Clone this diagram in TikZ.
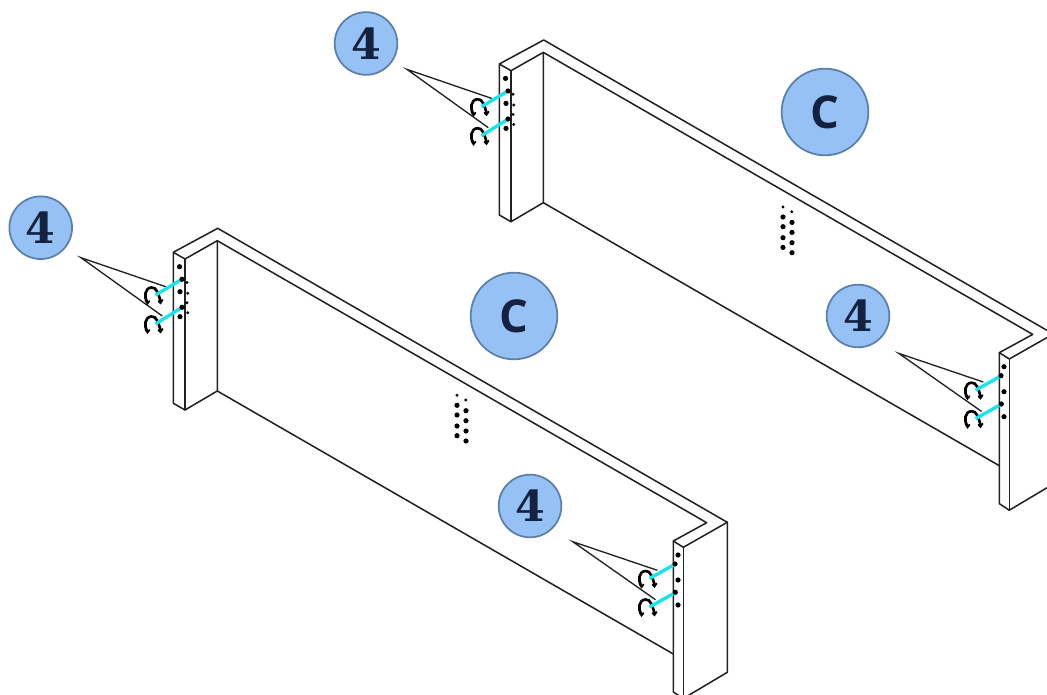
\documentclass[tikz,border=0pt]{standalone}
\usepackage{fontspec}
\newfontfamily\numfont{DejaVu Serif}
\newfontfamily\letfont{Open Sans}
\definecolor{bubble}{HTML}{95C1F5}
\definecolor{bubbleedge}{HTML}{5C7FA8}
\definecolor{ink}{HTML}{14213F}
\definecolor{linecol}{HTML}{222222}
\definecolor{pincol}{HTML}{16E4EE}
\tikzset{
  edge/.style={draw=linecol,line width=1.15pt,line join=round,line cap=round},
  leader/.style={draw=linecol,line width=1pt,line join=miter},
  pin/.style={draw=pincol,line width=2.5pt},
  bigdot/.style={circle,fill=black,minimum size=3.9pt,inner sep=0pt},
  smalldot/.style={circle,fill=black,minimum size=2.4pt,inner sep=0pt},
  numbub/.style={circle,draw=bubbleedge,line width=1.3pt,fill=bubble,minimum size=47pt,inner sep=0pt,
     text=ink,font=\numfont\bfseries\fontsize{32}{32}\selectfont},
  letbub/.style={circle,draw=bubbleedge,line width=1.3pt,fill=bubble,minimum size=65pt,inner sep=0pt,
     text=ink,font=\letfont\bfseries\fontsize{34}{34}\selectfont},
  staple/.pic={
    \draw[black,line width=2pt,line cap=round]
      (-8.5,7) .. controls (-11.5,2) and (-11,-7) .. (-4,-7.5)
             .. controls (1,-8) and (3,-1) .. (5,6);
    \draw[black,line width=1.4pt,line cap=round] (-10,5) -- (-8,8.5) -- (-6,6);
    \draw[black,line width=1.4pt,line cap=round] (3,6) -- (5,8) -- (7,5);
  },
  board/.pic={
    \coordinate (tl) at (173.3,252.3);
    \coordinate (tf) at (185,259);
    \coordinate (to) at (217.7,228.3);
    \coordinate (ti) at (217.3,240.7);
    \coordinate (bl) at (173.3,403.3);
    \coordinate (bf) at (185,410);
    \coordinate (bi) at (217.3,391);
    \coordinate (rl) at (673.3,541);
    \coordinate (rf) at (683.3,547.3);
    \coordinate (ro) at (727.3,522.3);
    \coordinate (ri) at (706.7,522.7);
    \coordinate (rbo) at (727.3,672.3);
    \coordinate (rbf) at (683.3,698.5);
    \coordinate (rbl) at (673.3,692);
    \coordinate (rin) at (673.3,654);
    \draw[edge] (tf) -- (tl) -- (to) -- (ro) -- (rf) -- (rl) -- (ri) -- (ti) -- (tf) -- (bf) -- (bl) -- (tl);
    \draw[edge] (ti) -- (bi) -- (bf);
    \draw[edge] (bi) -- (rin);
    \draw[edge] (rl) -- (rbl) -- (rbf) -- (rbo) -- (ro);
    \draw[edge] (rf) -- (rbf);
    \coordinate (la) at (81,257.7);
    \coordinate (lp1) at (165.7,286.7);
    \coordinate (lp2) at (162.3,316);
    \coordinate (lc1a) at (182,279.3);
    \coordinate (lc1b) at (155.5,295);
    \coordinate (lc2a) at (182,307.5);
    \coordinate (lc2b) at (155.5,324);
    \draw[leader] (lp1) -- (la) -- (lp2);
    \path (lc1b) pic {staple} (lc2b) pic {staple};
    \draw[pin] (lc1a) -- (lc1b);
    \draw[pin] (lc2a) -- (lc2b);
    \foreach \x/\y in {179.5/266.7,182/279.3,180/291.7,182/307.3,180/316.7}
      \node[bigdot] at (\x,\y) {};
    \foreach \x/\y in {187/282.5,187.7/293.3,187/302.7,187.7/312.7}
      \node[smalldot] at (\x,\y) {};
    \coordinate (ra) at (572.8,541.7);
    \coordinate (rp1) at (657.3,570.3);
    \coordinate (rp2) at (655.5,599.7);
    \coordinate (rc1a) at (674.5,564.5);
    \coordinate (rc1b) at (649.5,578.5);
    \coordinate (rc2a) at (674.5,593);
    \coordinate (rc2b) at (649.5,607);
    \draw[leader] (rp1) -- (ra) -- (rp2);
    \path (rc1b) pic {staple} (rc2b) pic {staple};
    \draw[pin] (rc1a) -- (rc1b);
    \draw[pin] (rc2a) -- (rc2b);
    \foreach \x/\y in {678/555,675/564,678/580,675.3/592.3,678/605}
      \node[bigdot] at (\x,\y) {};
    \foreach \y in {405.3,415,426,435.7}
      \node[bigdot] at (457,\y) {};
    \node[smalldot] at (457,395.3) {};
    \node[smalldot] at (465.7,400) {};
    \foreach \y in {410.7,420.7,431,441}
      \node[bigdot] at (466,\y) {};
  }
}
\begin{document}
\begin{tikzpicture}[x=0.75pt,y=-0.75pt]
\useasboundingbox (0,0) rectangle (1047,695);
\clip (0,0) rectangle (1047,695);
\pic (lowerboard) at (0,0) {board};
\pic (upperboard) at (326,-188.3) {board};
\node[numbub] (n1) at (366,43.5) {4};
\node[numbub] (n2) at (40.7,227.7) {4};
\node[numbub] (n3) at (858,316) {4};
\node[numbub] (n4) at (530,506) {4};
\node[letbub] (c1) at (825,112) {C};
\node[letbub] (c2) at (514,316) {C};
\end{tikzpicture}
\end{document}
